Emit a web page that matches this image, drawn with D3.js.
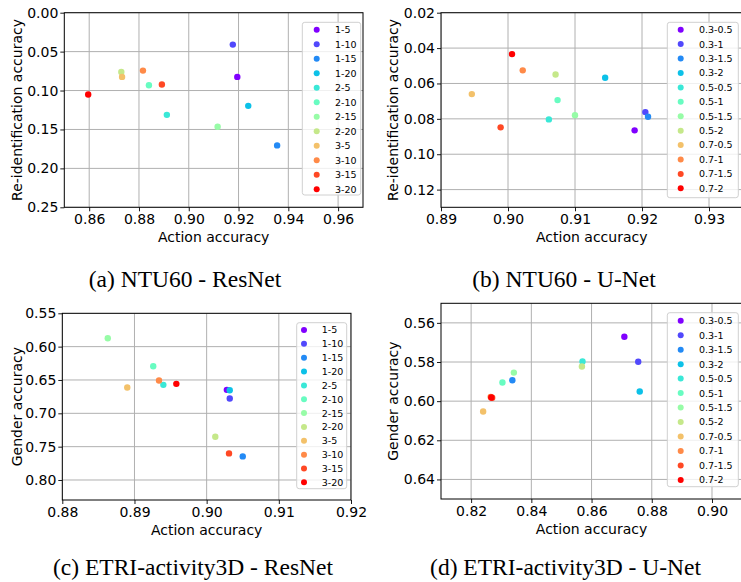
<!DOCTYPE html>
<html>
<head>
<meta charset="utf-8">
<script src="https://cdn.jsdelivr.net/npm/d3@7"></script>
<style>
  html, body { margin: 0; padding: 0; background: #fff; }
  svg { display: block; }
  text { font-family: "DejaVu Sans", sans-serif; }
  .caption { font-family: "Liberation Serif", "Times New Roman", serif; }
</style>
</head>
<body>
<svg id="chart" width="741" height="582"></svg>
<script>
// ---------------- DATA ----------------
const resnetLabels = ["1-5","1-10","1-15","1-20","2-5","2-10","2-15","2-20","3-5","3-10","3-15","3-20"];
const unetLabels = ["0.3-0.5","0.3-1","0.3-1.5","0.3-2","0.5-0.5","0.5-1","0.5-1.5","0.5-2","0.7-0.5","0.7-1","0.7-1.5","0.7-2"];

// (a) NTU60 - ResNet
const ntuResAction = [0.9195, 0.9177, 0.9355, 0.9239, 0.8912, 0.8840, 0.9116, 0.8729, 0.8732, 0.8816, 0.8892, 0.8596];
const ntuResReid   = [0.0825, 0.0410, 0.1705, 0.1197, 0.1312, 0.0932, 0.1466, 0.0761, 0.0825, 0.0744, 0.0923, 0.1051];

// (b) NTU60 - U-Net
const ntuUnetAction = [0.9189, 0.9205, 0.9209, 0.9145, 0.9061, 0.9074, 0.9100, 0.9071, 0.8946, 0.9022, 0.8989, 0.9006];
const ntuUnetReid   = [0.0865, 0.0762, 0.0788, 0.0568, 0.0803, 0.0694, 0.0779, 0.0549, 0.0660, 0.0526, 0.0848, 0.0434];

// (c) ETRI-activity3D - ResNet
const etriResAction = [0.9028, 0.9032, 0.9050, 0.9032, 0.8940, 0.8926, 0.8863, 0.9012, 0.8890, 0.8934, 0.9031, 0.8958];
const etriResGender = [0.6648, 0.6777, 0.7646, 0.6653, 0.6573, 0.6293, 0.5874, 0.7351, 0.6613, 0.6508, 0.7601, 0.6558];

// (d) ETRI-activity3D - U-Net
const etriUnetAction = [0.8709, 0.8755, 0.8337, 0.8760, 0.8570, 0.8304, 0.8342, 0.8568, 0.8240, 0.8265, 0.8270, 0.8267];
const etriUnetGender = [0.5671, 0.5799, 0.5893, 0.5951, 0.5797, 0.5905, 0.5854, 0.5823, 0.6053, 0.5978, 0.5983, 0.5981];

// tick values
const ticksAX = [0.86, 0.88, 0.90, 0.92, 0.94, 0.96];
const ticksAY = [0.00, 0.05, 0.10, 0.15, 0.20, 0.25];
const ticksBX = [0.89, 0.90, 0.91, 0.92, 0.93];
const ticksBY = [0.02, 0.04, 0.06, 0.08, 0.10, 0.12];
const ticksCX = [0.88, 0.89, 0.90, 0.91, 0.92];
const ticksCY = [0.55, 0.60, 0.65, 0.70, 0.75, 0.80];
const ticksDX = [0.82, 0.84, 0.86, 0.88, 0.90];
const ticksDY = [0.56, 0.58, 0.60, 0.62, 0.64];

const captions = ["(a) NTU60 - ResNet", "(b) NTU60 - U-Net", "(c) ETRI-activity3D - ResNet", "(d) ETRI-activity3D - U-Net"];

// matplotlib "rainbow" colormap sampled at 12 points
const palette = ["#8000ff","#5148fc","#238af5","#0cc1e8","#3ae8d7","#68fcc1","#97fca7","#c5e88a","#f3c16a","#ff8a48","#ff4824","#ff0000"];

// ---------------- LAYOUT ----------------
const panels = [
  { labels: resnetLabels, xs: ntuResAction, ys: ntuResReid, xDomain: [0.85, 0.97], yDomain: [0, 0.25],
    xTicks: ticksAX, yTicks: ticksAY, xFmt: ".2f", yFmt: ".2f", yLabel: "Re-identification accuracy",
    box: { l: 64.3, r: 363, t: 12.7, b: 207.3 }, yLabelX: 17,
    legend: { x: 302.3, y: 22.3, w: 58.4, h: 172.7, mx: 316.7, tx: 335, y0: 29.7, dy: 14.5 },
    caption: { x: 185, y: 287 } },
  { labels: unetLabels, xs: ntuUnetAction, ys: ntuUnetReid, xDomain: [0.89, 0.935], yDomain: [0.02, 0.13],
    xTicks: ticksBX, yTicks: ticksBY, xFmt: ".2f", yFmt: ".2f", yLabel: "Re-identification accuracy",
    box: { l: 441, r: 742.5, t: 12.7, b: 207.3 }, yLabelX: 393.3,
    legend: { x: 667.3, y: 22.3, w: 71, h: 175.4, mx: 680.7, tx: 699, y0: 29.7, dy: 14.42 },
    caption: { x: 564, y: 287 } },
  { labels: resnetLabels, xs: etriResAction, ys: etriResGender, xDomain: [0.88, 0.92], yDomain: [0.55, 0.83],
    xTicks: ticksCX, yTicks: ticksCY, xFmt: ".2f", yFmt: ".2f", yLabel: "Gender accuracy",
    box: { l: 62.3, r: 351, t: 313.3, b: 500 }, yLabelX: 17,
    legend: { x: 296.7, y: 322.7, w: 50, h: 166, mx: 304, tx: 321.7, y0: 330, dy: 13.85 },
    caption: { x: 193, y: 574.5 } },
  { labels: unetLabels, xs: etriUnetAction, ys: etriUnetGender, xDomain: [0.81, 0.91], yDomain: [0.55, 0.65],
    xTicks: ticksDX, yTicks: ticksDY, xFmt: ".2f", yFmt: ".2f", yLabel: "Gender accuracy",
    box: { l: 441, r: 742.1, t: 303.3, b: 499 }, yLabelX: 392.7,
    legend: { x: 667.3, y: 312.7, w: 71, h: 174, mx: 680.7, tx: 699, y0: 320.7, dy: 14.48 },
    caption: { x: 565.5, y: 574.5 } }
];

const svg = d3.select("#chart");

panels.forEach((p, pi) => {
  const B = p.box;
  const x = d3.scaleLinear().domain(p.xDomain).range([B.l, B.r]);
  const y = d3.scaleLinear().domain(p.yDomain).range([B.t, B.b]); // inverted axis: small values on top
  const g = svg.append("g");

  const clipId = "clip" + pi;
  svg.append("clipPath").attr("id", clipId).append("rect")
    .attr("x", B.l).attr("y", B.t).attr("width", B.r - B.l).attr("height", B.b - B.t);

  // grid
  const grid = g.append("g").attr("clip-path", `url(#${clipId})`);
  grid.selectAll("line.gx").data(p.xTicks).join("line").attr("class", "gx")
    .attr("x1", d => x(d)).attr("x2", d => x(d)).attr("y1", B.t).attr("y2", B.b)
    .attr("stroke", "#b0b0b0").attr("stroke-width", 1);
  grid.selectAll("line.gy").data(p.yTicks).join("line").attr("class", "gy")
    .attr("y1", d => y(d)).attr("y2", d => y(d)).attr("x1", B.l).attr("x2", B.r)
    .attr("stroke", "#b0b0b0").attr("stroke-width", 1);

  // axes
  const xAxis = d3.axisBottom(x).tickValues(p.xTicks).tickFormat(d3.format(p.xFmt)).tickSize(4).tickPadding(3);
  const yAxis = d3.axisLeft(y).tickValues(p.yTicks).tickFormat(d3.format(p.yFmt)).tickSize(4).tickPadding(2);
  const gx = g.append("g").attr("transform", `translate(0,${B.b})`).call(xAxis);
  const gy = g.append("g").attr("transform", `translate(${B.l},0)`).call(yAxis);
  [gx, gy].forEach(a => {
    a.select(".domain").remove();
    a.selectAll("text").attr("font-size", 14).attr("fill", "#000").attr("font-family", "DejaVu Sans");
    a.selectAll("line").attr("stroke", "#000").attr("stroke-width", 0.9);
  });

  // spines
  g.append("rect").attr("x", B.l).attr("y", B.t).attr("width", B.r - B.l).attr("height", B.b - B.t)
    .attr("fill", "none").attr("stroke", "#000").attr("stroke-width", 1);

  // points
  const pts = p.xs.map((v, i) => ({ x: v, y: p.ys[i], c: palette[i] }));
  g.append("g").attr("clip-path", `url(#${clipId})`).selectAll("circle").data(pts).join("circle")
    .attr("cx", d => x(d.x)).attr("cy", d => y(d.y)).attr("r", 3.2).attr("fill", d => d.c);

  // axis labels
  g.append("text").attr("x", (B.l + Math.min(B.r, 741 + 0) * 0 + (p.box === B ? 0 : 0) + (B.r - B.l) / 2))
    .attr("y", B.b + 34.5).attr("text-anchor", "middle").attr("font-size", 14).text("Action accuracy");
  g.append("text").attr("transform", `translate(${p.yLabelX + 5},${(B.t + B.b) / 2}) rotate(-90)`)
    .attr("text-anchor", "middle").attr("font-size", 14).text(p.yLabel);

  // legend
  const L = p.legend;
  g.append("rect").attr("x", L.x).attr("y", L.y).attr("width", L.w).attr("height", L.h)
    .attr("rx", 2.5).attr("fill", "#fff").attr("fill-opacity", 0.8).attr("stroke", "#d0d0d0").attr("stroke-width", 1);
  const items = g.append("g").selectAll("g").data(p.labels).join("g")
    .attr("transform", (d, i) => `translate(0,${L.y0 + i * L.dy})`);
  items.append("circle").attr("cx", L.mx).attr("cy", 0).attr("r", 3).attr("fill", (d, i) => palette[i]);
  items.append("text").attr("x", L.tx).attr("y", 3.4).attr("font-size", 9.5).attr("fill", "#000").text(d => d);

  // caption
  svg.append("text").attr("class", "caption").attr("x", p.caption.x).attr("y", p.caption.y)
    .attr("text-anchor", "middle").attr("font-size", 23.5).attr("fill", "#000").text(captions[pi]);
});
</script>
</body>
</html>
